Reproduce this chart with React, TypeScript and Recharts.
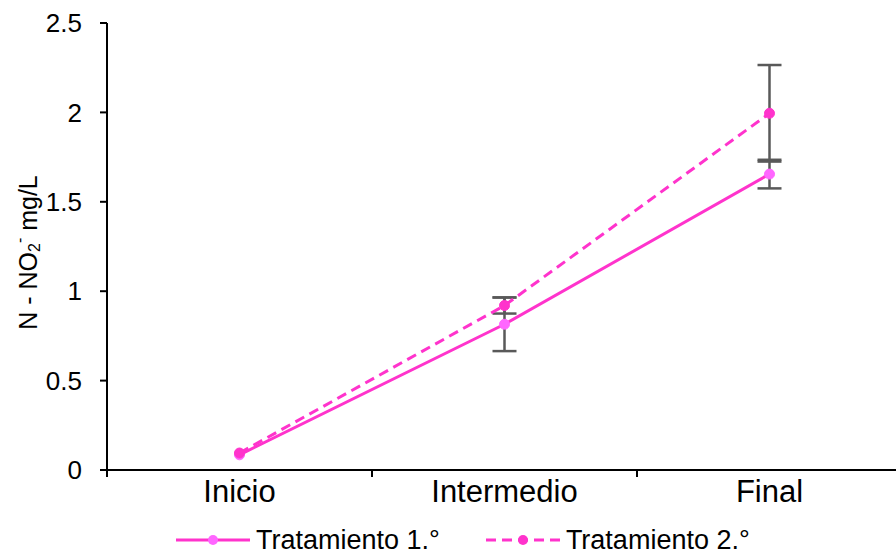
import { LineChart, Line, XAxis, YAxis, ErrorBar, Legend, Label } from 'recharts';

const categories = ['Inicio', 'Intermedio', 'Final'];
const tratamiento1 = [0.085, 0.815, 1.655];
const tratamiento1Err = [0, 0.15, 0.08];
const tratamiento2 = [0.095, 0.92, 1.995];
const tratamiento2Err = [0, 0.045, 0.27];
const yTicks = [0, 0.5, 1, 1.5, 2, 2.5];
const xTicks = [0, 0.5, 1, 1.5, 2, 2.5, 3];

const data = categories.map((name, i) => ({
  x: i + 0.5,
  name,
  t1: tratamiento1[i],
  t1Err: tratamiento1Err[i],
  t2: tratamiento2[i],
  t2Err: tratamiento2Err[i],
}));

const FONT = '"Liberation Sans", Arial, sans-serif';
const PINK = '#FF33CC';
const PINK_LIGHT = '#FF66FF';
const ERR = '#595959';
const TICK_SIZE = 7;
const TICK_MARGIN = 4;

const XTick = (props: any) => {
  const { x, y, payload } = props;
  const v = payload.value as number;
  if (Number.isInteger(v)) {
    const y0 = y - TICK_MARGIN - TICK_SIZE;
    return <line x1={x} x2={x} y1={y0} y2={y0 + TICK_SIZE} stroke="#000" strokeWidth={2} />;
  }
  return (
    <text x={x} y={y} dy="0.69em" textAnchor="middle" fontSize={31} fontFamily={FONT} fill="#000">
      {categories[Math.floor(v)]}
    </text>
  );
};

const YLabel = (props: any) => {
  const vb = props.viewBox;
  const cx = 28;
  const cy = vb.y + vb.height / 2 + 6;
  return (
    <text
      x={cx}
      y={cy}
      transform={`rotate(-90 ${cx} ${cy})`}
      textAnchor="middle"
      fontSize={25}
      fontFamily={FONT}
      fill="#000"
      dominantBaseline="central"
    >
      <tspan>N - NO</tspan>
      <tspan fontSize={16} dy={6}>2</tspan>
      <tspan fontSize={16} dy={-15}>-</tspan>
      <tspan dy={9}> mg/L</tspan>
    </text>
  );
};

const LegendContent = () => (
  <div
    style={{
      display: 'flex',
      alignItems: 'center',
      paddingLeft: 176,
      paddingTop: 17,
      fontSize: 27,
      lineHeight: '30px',
      fontFamily: FONT,
      color: '#000',
    }}
  >
    <svg width={74} height={14}>
      <line x1={0} x2={74} y1={7} y2={7} stroke={PINK} strokeWidth={3} />
      <circle cx={37} cy={7} r={5} fill={PINK_LIGHT} />
    </svg>
    <span style={{ marginLeft: 6, marginRight: 46 }}>Tratamiento 1.°</span>
    <svg width={74} height={14}>
      <line x1={0} x2={74} y1={7} y2={7} stroke={PINK} strokeWidth={3} strokeDasharray="10 6" />
      <circle cx={37} cy={7} r={5} fill={PINK} />
    </svg>
    <span style={{ marginLeft: 6 }}>Tratamiento 2.°</span>
  </div>
);

export default function App() {
  return (
    <div style={{ position: 'absolute', left: 0, top: 0, width: 896, height: 554, overflow: 'hidden', background: '#fff' }}>
      <LineChart width={904} height={554} data={data} margin={{ top: 23, right: 2, left: 0, bottom: 0 }}>
        <XAxis
          dataKey="x"
          type="number"
          domain={[0, 3]}
          ticks={xTicks}
          interval={0}
          tick={<XTick />}
          tickLine={false}
          tickSize={TICK_SIZE}
          tickMargin={TICK_MARGIN}
          axisLine={{ stroke: '#000', strokeWidth: 2 }}
          height={38}
        />
        <YAxis
          domain={[0, 2.5]}
          ticks={yTicks}
          width={107}
          tick={{ fontSize: 26, fill: '#000', fontFamily: FONT }}
          tickSize={TICK_SIZE}
          tickMargin={18}
          tickLine={{ stroke: '#000', strokeWidth: 2 }}
          axisLine={{ stroke: '#000', strokeWidth: 2 }}
        >
          <Label content={<YLabel />} />
        </YAxis>
        <Legend verticalAlign="bottom" height={46} content={<LegendContent />} />
        <Line
          dataKey="t1"
          stroke={PINK}
          strokeWidth={3}
          dot={{ r: 5, fill: PINK_LIGHT, stroke: PINK_LIGHT, strokeWidth: 1 }}
          isAnimationActive={false}
        >
          <ErrorBar dataKey="t1Err" direction="y" width={12} stroke={ERR} strokeWidth={2.5} isAnimationActive={false} />
        </Line>
        <Line
          dataKey="t2"
          stroke={PINK}
          strokeWidth={3}
          strokeDasharray="10 6"
          dot={{ r: 5, fill: PINK, stroke: PINK, strokeWidth: 1, strokeDasharray: '' }}
          isAnimationActive={false}
        >
          <ErrorBar dataKey="t2Err" direction="y" width={12} stroke={ERR} strokeWidth={2.5} isAnimationActive={false} />
        </Line>
      </LineChart>
    </div>
  );
}
